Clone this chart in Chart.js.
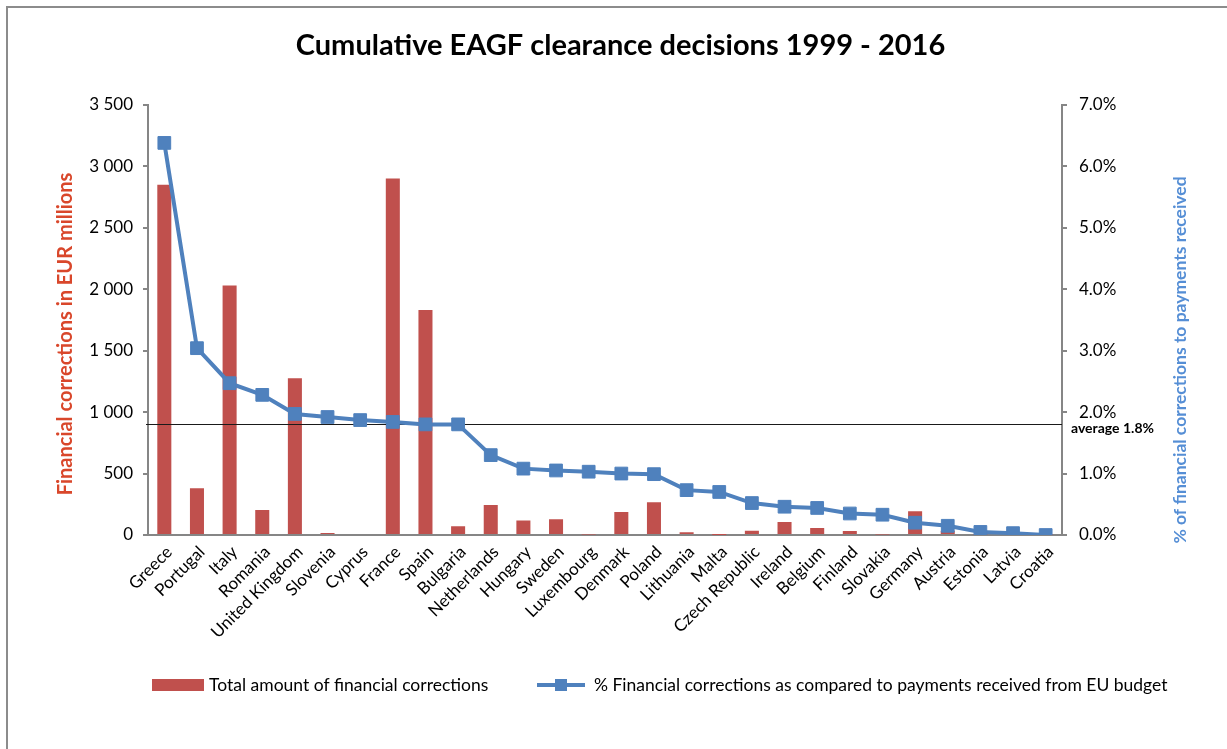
<!DOCTYPE html>
<html>
<head>
<meta charset="utf-8">
<script src="https://cdn.jsdelivr.net/npm/chart.js@4.4.1/dist/chart.umd.min.js"></script>
<style>
  html, body { margin: 0; padding: 0; background: #fff; }
  #wrap { position: relative; width: 1227px; height: 749px; }
</style>
</head>
<body>
<div id="wrap"><canvas id="eagfChart" width="1227" height="749"></canvas></div>
<script>
// categories (member states, sorted by % share)
var countries = ["Greece", "Portugal", "Italy", "Romania", "United Kingdom", "Slovenia", "Cyprus",
  "France", "Spain", "Bulgaria", "Netherlands", "Hungary", "Sweden", "Luxembourg", "Denmark",
  "Poland", "Lithuania", "Malta", "Czech Republic", "Ireland", "Belgium", "Finland", "Slovakia",
  "Germany", "Austria", "Estonia", "Latvia", "Croatia"];

// total amount of financial corrections, EUR millions
var corrections = [2850, 380, 2030, 203, 1275, 16, 8, 2900, 1830, 71, 244, 117, 128, 5, 187,
  266, 22, 1, 35, 106, 57, 33, 5, 193, 35, 3, 2, 1];

// % financial corrections vs payments received from EU budget
var percentShare = [6.38, 3.04, 2.47, 2.28, 1.97, 1.92, 1.87, 1.84, 1.80, 1.80, 1.30, 1.08, 1.05,
  1.03, 1.00, 0.99, 0.73, 0.70, 0.52, 0.46, 0.44, 0.35, 0.33, 0.20, 0.15, 0.05, 0.03, 0.00];

var averagePct = 1.8;
var leftAxisMax = 3500, leftAxisStep = 500;
var rightAxisMax = 7, rightAxisStep = 1;

var barLabel = "Total amount of financial corrections";
var lineLabel = "% Financial corrections as compared to payments received from EU budget";

var FONT = "Lato, Carlito, 'Open Sans', sans-serif";
var barColor = "#C0504D";
var lineColor = "#4F81BD";
var axisGrey = "#868686";

function spaced(v) {
  return String(v).replace(/\B(?=(\d{3})+(?!\d))/g, " ");
}

// frame, axis titles, average line and legend
var decorations = {
  id: "decorations",
  beforeDraw: function (chart) {
    var ctx = chart.ctx;
    ctx.save();
    ctx.fillStyle = "#fff";
    ctx.fillRect(0, 0, chart.width, chart.height);
    ctx.strokeStyle = "#8c8c8c";
    ctx.lineWidth = 2;
    ctx.strokeRect(7, 7, chart.width + 20, chart.height + 20);
    ctx.restore();
  },
  afterDatasetDraw: function (chart, args) {
    if (args.meta.type !== "bar") return;
    var ctx = chart.ctx, area = chart.chartArea;
    var y = Math.round(chart.scales.yPct.getPixelForValue(averagePct)) + 0.5;
    ctx.save();
    ctx.strokeStyle = "#1a1a1a";
    ctx.lineWidth = 1;
    ctx.beginPath();
    ctx.moveTo(area.left - 2, y);
    ctx.lineTo(area.right, y);
    ctx.stroke();
    ctx.restore();
  },
  afterDraw: function (chart) {
    var ctx = chart.ctx, area = chart.chartArea;
    ctx.save();
    // average label
    ctx.fillStyle = "#000";
    ctx.font = "bold 14px " + FONT;
    ctx.textBaseline = "middle";
    ctx.textAlign = "left";
    ctx.fillText("average 1.8%", area.right + 9, chart.scales.yPct.getPixelForValue(averagePct) + 4);

    // left axis title
    ctx.save();
    ctx.translate(66, 334);
    ctx.rotate(-Math.PI / 2);
    ctx.textAlign = "center";
    ctx.fillStyle = "#D9472B";
    ctx.font = "bold 20px " + FONT;
    ctx.fillText("Financial corrections in EUR millions", 0, 0);
    ctx.restore();

    // right axis title
    ctx.save();
    ctx.translate(1180, 360);
    ctx.rotate(-Math.PI / 2);
    ctx.textAlign = "center";
    ctx.fillStyle = "#558ED5";
    ctx.font = "bold 17.5px " + FONT;
    ctx.fillText("% of financial corrections to payments received", 0, 0);
    ctx.restore();

    // legend
    var ly = 685;
    ctx.font = "17.5px " + FONT;
    ctx.fillStyle = barColor;
    ctx.fillRect(152, ly - 6, 52, 12);
    ctx.fillStyle = "#000";
    ctx.fillText(barLabel, 209, ly);

    ctx.strokeStyle = lineColor;
    ctx.lineWidth = 4;
    ctx.beginPath();
    ctx.moveTo(537, ly);
    ctx.lineTo(585, ly);
    ctx.stroke();
    ctx.fillStyle = lineColor;
    ctx.fillRect(555, ly - 6, 12, 12);
    ctx.fillStyle = "#000";
    ctx.fillText(lineLabel, 594, ly);
    ctx.restore();
  }
};

var chart = new Chart(document.getElementById("eagfChart"), {
  data: {
    labels: countries,
    datasets: [
      {
        type: "line",
        label: lineLabel,
        data: percentShare,
        yAxisID: "yPct",
        order: 0,
        borderColor: lineColor,
        backgroundColor: lineColor,
        borderWidth: 4,
        pointStyle: "rect",
        pointRadius: 9,
        pointHoverRadius: 9,
        pointBorderWidth: 1,
        pointBackgroundColor: lineColor,
        pointBorderColor: lineColor,
        tension: 0
      },
      {
        type: "bar",
        label: barLabel,
        data: corrections,
        yAxisID: "yAmt",
        order: 1,
        backgroundColor: barColor,
        categoryPercentage: 1,
        barPercentage: 0.43
      }
    ]
  },
  options: {
    responsive: false,
    animation: false,
    layout: { padding: { left: 14, right: 0, top: 0, bottom: 0 } },
    plugins: {
      legend: { display: false },
      tooltip: { enabled: false },
      title: {
        display: true,
        text: "Cumulative EAGF clearance decisions 1999 - 2016",
        color: "#000",
        font: { family: FONT, size: 29, weight: "bold", lineHeight: 1.2 },
        padding: { top: 28, bottom: 42 }
      }
    },
    scales: {
      x: {
        grid: { display: false, drawTicks: false },
        border: { color: axisGrey, width: 2 },
        ticks: {
          color: "#000",
          autoSkip: false,
          minRotation: 45,
          maxRotation: 45,
          padding: 7,
          labelOffset: 5,
          font: { family: FONT, size: 17 }
        },
        afterFit: function (s) { s.height = 214; }
      },
      yAmt: {
        position: "left",
        min: 0,
        max: leftAxisMax,
        grid: { drawOnChartArea: false, tickLength: 5, color: axisGrey, lineWidth: 2 },
        border: { color: axisGrey, width: 2 },
        ticks: {
          stepSize: leftAxisStep,
          color: "#000",
          padding: 10,
          font: { family: FONT, size: 17 },
          callback: function (v) { return spaced(v); }
        },
        afterFit: function (s) { s.width = 134; }
      },
      yPct: {
        position: "right",
        min: 0,
        max: rightAxisMax,
        grid: { drawOnChartArea: false, tickLength: 5, color: axisGrey, lineWidth: 2 },
        border: { color: axisGrey, width: 2 },
        ticks: {
          stepSize: rightAxisStep,
          color: "#000",
          padding: 12,
          font: { family: FONT, size: 17 },
          callback: function (v) { return v.toFixed(1) + "%"; }
        },
        afterFit: function (s) { s.width = 165; }
      }
    }
  },
  plugins: [decorations]
});
</script>
</body>
</html>
